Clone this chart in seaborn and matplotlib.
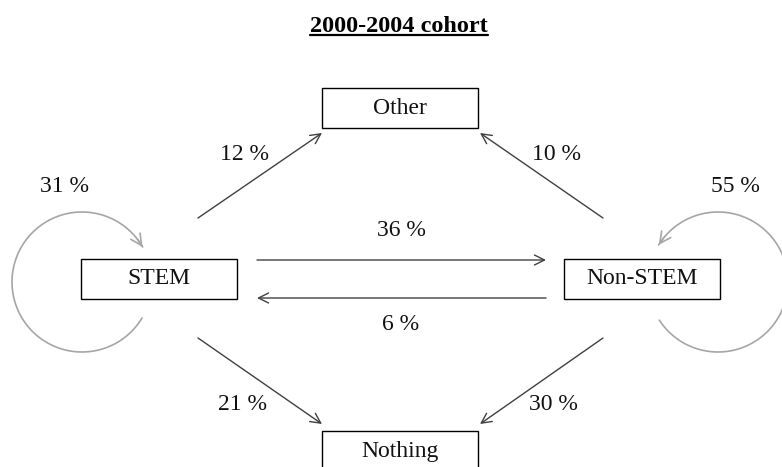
import numpy as np
import pandas as pd
import seaborn as sns
from matplotlib import pyplot as plt

# nodes and transition shares (2000-2004 cohort)
nodes = ["Other", "STEM", "Non-STEM", "Nothing"]
flow_src = ["STEM", "Non-STEM", "STEM", "Non-STEM", "STEM", "Non-STEM"]
flow_dst = ["Other", "Other", "Non-STEM", "STEM", "Nothing", "Nothing"]
flow_pct = [12, 10, 36, 6, 21, 30]
stay_nodes = ["STEM", "Non-STEM"]
stay_pct = [31, 55]

sns.set_theme(style="white")
plt.rcParams['font.family'] = ['Liberation Serif', 'DejaVu Serif']

# layout in pixel space (y grows downward)
box = {"Other": (322, 88, 156, 40), "STEM": (81, 259, 156, 40),
       "Non-STEM": (564, 259, 156, 40), "Nothing": (322, 431, 156, 40)}
arrows = {("STEM", "Other"): ((198, 218), (322, 133)),
          ("Non-STEM", "Other"): ((603, 218), (480, 133)),
          ("STEM", "Non-STEM"): ((257, 260), (546, 260)),
          ("Non-STEM", "STEM"): ((546, 298), (257, 298)),
          ("STEM", "Nothing"): ((198, 338), (322, 424)),
          ("Non-STEM", "Nothing"): ((603, 338), (480, 424))}
label_pos = {("STEM", "Other"): (244, 155), ("Non-STEM", "Other"): (556, 155),
             ("STEM", "Non-STEM"): (401, 231), ("Non-STEM", "STEM"): (401, 325),
             ("STEM", "Nothing"): (243, 404), ("Non-STEM", "Nothing"): (553, 404)}
loops = {"STEM": ((82, 282), 70, 31, 330), "Non-STEM": ((718, 282), 70, 147, -148)}
loop_label = {"STEM": (64, 186), "Non-STEM": (735, 186)}

fig = plt.figure(figsize=(7.82, 4.67), dpi=100)
ax = fig.add_axes([0, 0, 1, 1])
ax.set_xlim(0, 782)
ax.set_ylim(467, 0)
ax.axis('off')

fs = 17
dark = '#404040'
gray = '#a6a6a6'

# title with underline
title = ax.text(399, 32, "2000-2004 cohort", ha='center', va='baseline',
                fontsize=17.5, fontweight='bold', color='black')
fig.canvas.draw()
bb = title.get_window_extent().transformed(ax.transData.inverted())
ax.plot([bb.x0, bb.x1], [35, 35], color='black', lw=1.6)

# boxes
for name in nodes:
    x, y, w, h = box[name]
    ax.add_patch(plt.Rectangle((x, y), w, h, fill=True, facecolor='white',
                               edgecolor='black', lw=1.0, zorder=3))
    ax.text(x + w / 2, y + h / 2, name, ha='center', va='center',
            fontsize=fs, color='#111111', zorder=4)

# straight flows
for s, d, p in zip(flow_src, flow_dst, flow_pct):
    start, end = arrows[(s, d)]
    ax.annotate('', xy=end, xytext=start,
                arrowprops=dict(arrowstyle='->', lw=1.0, color=dark,
                                shrinkA=0, shrinkB=0, mutation_scale=18))
    lx, ly = label_pos[(s, d)]
    ax.text(lx, ly, f"{p} %", ha='center', va='center', fontsize=fs, color='#111111')

# staying loops
for n, p in zip(stay_nodes, stay_pct):
    (cx, cy), r, t0, t1 = loops[n]
    t = np.radians(np.linspace(t0, t1, 120))
    arc = pd.DataFrame({"x": cx + r * np.cos(t), "y": cy + r * np.sin(t)})
    sns.lineplot(data=arc, x="x", y="y", sort=False, color=gray, lw=1.2, ax=ax)
    ax.annotate('', xy=(arc.x.iloc[-1], arc.y.iloc[-1]),
                xytext=(arc.x.iloc[-4], arc.y.iloc[-4]),
                arrowprops=dict(arrowstyle='->', lw=1.2, color=gray,
                                shrinkA=0, shrinkB=0, mutation_scale=20))
    lx, ly = loop_label[n]
    ax.text(lx, ly, f"{p} %", ha='center', va='center', fontsize=fs, color='#111111')

ax.set_xlim(0, 782)
ax.set_ylim(467, 0)
ax.axis('off')
fig.savefig('out.png', dpi=100)
